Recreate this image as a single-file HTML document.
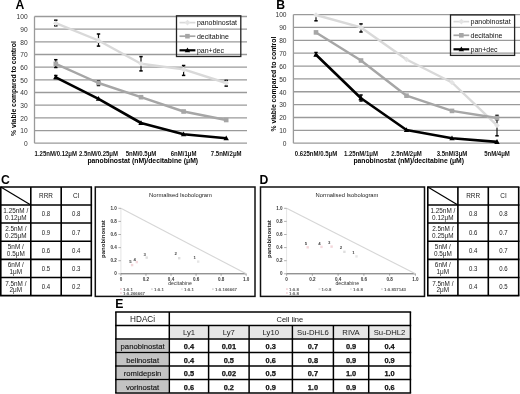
<!DOCTYPE html>
<html><head><meta charset="utf-8"><style>
html,body{margin:0;padding:0;background:#fff;}
body{width:520px;height:394px;overflow:hidden;}
svg{display:block;font-family:"Liberation Sans",sans-serif;filter:blur(0.3px);}
</style></head><body>
<svg width="520" height="394" viewBox="0 0 520 394">
<rect width="520" height="394" fill="#fff"/>
<text x="15.6" y="8.7" font-size="12.2" text-anchor="start" fill="#000" font-weight="bold" >A</text>
<line x1="34.5" y1="143.2" x2="247" y2="143.2" stroke="#9a9a9a" stroke-width="1.3" />
<text transform="translate(27.6 146.0) scale(0.85 1)" font-size="7.8" text-anchor="end" fill="#333">0</text>
<line x1="34.5" y1="130.53" x2="247" y2="130.53" stroke="#9a9a9a" stroke-width="1.3" />
<text transform="translate(27.6 133.33) scale(0.85 1)" font-size="7.8" text-anchor="end" fill="#333">10</text>
<line x1="34.5" y1="117.86" x2="247" y2="117.86" stroke="#9a9a9a" stroke-width="1.3" />
<text transform="translate(27.6 120.66) scale(0.85 1)" font-size="7.8" text-anchor="end" fill="#333">20</text>
<line x1="34.5" y1="105.19" x2="247" y2="105.19" stroke="#9a9a9a" stroke-width="1.3" />
<text transform="translate(27.6 107.99) scale(0.85 1)" font-size="7.8" text-anchor="end" fill="#333">30</text>
<line x1="34.5" y1="92.52" x2="247" y2="92.52" stroke="#9a9a9a" stroke-width="1.3" />
<text transform="translate(27.6 95.32) scale(0.85 1)" font-size="7.8" text-anchor="end" fill="#333">40</text>
<line x1="34.5" y1="79.85" x2="247" y2="79.85" stroke="#9a9a9a" stroke-width="1.3" />
<text transform="translate(27.6 82.64999999999999) scale(0.85 1)" font-size="7.8" text-anchor="end" fill="#333">50</text>
<line x1="34.5" y1="67.18" x2="247" y2="67.18" stroke="#9a9a9a" stroke-width="1.3" />
<text transform="translate(27.6 69.98) scale(0.85 1)" font-size="7.8" text-anchor="end" fill="#333">60</text>
<line x1="34.5" y1="54.51" x2="247" y2="54.51" stroke="#9a9a9a" stroke-width="1.3" />
<text transform="translate(27.6 57.309999999999995) scale(0.85 1)" font-size="7.8" text-anchor="end" fill="#333">70</text>
<line x1="34.5" y1="41.84" x2="247" y2="41.84" stroke="#9a9a9a" stroke-width="1.3" />
<text transform="translate(27.6 44.64) scale(0.85 1)" font-size="7.8" text-anchor="end" fill="#333">80</text>
<line x1="34.5" y1="29.17" x2="247" y2="29.17" stroke="#9a9a9a" stroke-width="1.3" />
<text transform="translate(27.6 31.970000000000002) scale(0.85 1)" font-size="7.8" text-anchor="end" fill="#333">90</text>
<line x1="34.5" y1="16.5" x2="247" y2="16.5" stroke="#9a9a9a" stroke-width="1.3" />
<text transform="translate(27.6 19.3) scale(0.85 1)" font-size="7.8" text-anchor="end" fill="#333">100</text>
<line x1="34.5" y1="16.5" x2="34.5" y2="143.2" stroke="#9a9a9a" stroke-width="1.3" />
<text x="13.8" y="88.6" font-size="6.8" font-weight="bold" text-anchor="middle" transform="rotate(-90 13.8 88.6)" dominant-baseline="central">% viable compared to control</text>
<text transform="translate(55.8 155.6) scale(0.86 1)" font-size="7.0" text-anchor="middle" fill="#111" font-weight="bold">1.25nM/0.12μM</text>
<text transform="translate(98.5 155.6) scale(0.86 1)" font-size="7.0" text-anchor="middle" fill="#111" font-weight="bold">2.5nM/0.25μM</text>
<text transform="translate(141 155.6) scale(0.86 1)" font-size="7.0" text-anchor="middle" fill="#111" font-weight="bold">5nM/0.5μM</text>
<text transform="translate(183.6 155.6) scale(0.86 1)" font-size="7.0" text-anchor="middle" fill="#111" font-weight="bold">6nM/1μM</text>
<text transform="translate(226.2 155.6) scale(0.86 1)" font-size="7.0" text-anchor="middle" fill="#111" font-weight="bold">7.5nM/2μM</text>
<text x="142.75" y="162.6" font-size="6.8" text-anchor="middle" fill="#000" font-weight="bold" >panobinostat (nM)/decitabine (μM)</text>
<line x1="55.8" y1="20.2" x2="55.8" y2="25.8" stroke="#111" stroke-width="1.2" />
<line x1="54.099999999999994" y1="20.2" x2="57.5" y2="20.2" stroke="#000" stroke-width="1.5" />
<line x1="54.099999999999994" y1="25.8" x2="57.5" y2="25.8" stroke="#000" stroke-width="1.5" />
<line x1="98.5" y1="34" x2="98.5" y2="46.1" stroke="#111" stroke-width="1.2" />
<line x1="96.8" y1="34" x2="100.2" y2="34" stroke="#000" stroke-width="1.5" />
<line x1="96.8" y1="46.1" x2="100.2" y2="46.1" stroke="#000" stroke-width="1.5" />
<line x1="141" y1="56.6" x2="141" y2="70.9" stroke="#111" stroke-width="1.2" />
<line x1="139.3" y1="56.6" x2="142.7" y2="56.6" stroke="#000" stroke-width="1.5" />
<line x1="139.3" y1="70.9" x2="142.7" y2="70.9" stroke="#000" stroke-width="1.5" />
<line x1="183.6" y1="65.5" x2="183.6" y2="75.4" stroke="#111" stroke-width="1.2" />
<line x1="181.9" y1="65.5" x2="185.29999999999998" y2="65.5" stroke="#000" stroke-width="1.5" />
<line x1="181.9" y1="75.4" x2="185.29999999999998" y2="75.4" stroke="#000" stroke-width="1.5" />
<line x1="226.2" y1="80.4" x2="226.2" y2="86.1" stroke="#111" stroke-width="1.2" />
<line x1="224.5" y1="80.4" x2="227.89999999999998" y2="80.4" stroke="#000" stroke-width="1.5" />
<line x1="224.5" y1="86.1" x2="227.89999999999998" y2="86.1" stroke="#000" stroke-width="1.5" />
<line x1="55.8" y1="59.7" x2="55.8" y2="67.5" stroke="#111" stroke-width="1.2" />
<line x1="54.099999999999994" y1="59.7" x2="57.5" y2="59.7" stroke="#000" stroke-width="1.5" />
<line x1="54.099999999999994" y1="67.5" x2="57.5" y2="67.5" stroke="#000" stroke-width="1.5" />
<line x1="98.5" y1="81" x2="98.5" y2="85.5" stroke="#111" stroke-width="1.2" />
<line x1="96.8" y1="81" x2="100.2" y2="81" stroke="#000" stroke-width="1.5" />
<line x1="96.8" y1="85.5" x2="100.2" y2="85.5" stroke="#000" stroke-width="1.5" />
<line x1="55.8" y1="75.5" x2="55.8" y2="78.5" stroke="#111" stroke-width="1.2" />
<line x1="54.099999999999994" y1="75.5" x2="57.5" y2="75.5" stroke="#000" stroke-width="1.5" />
<line x1="54.099999999999994" y1="78.5" x2="57.5" y2="78.5" stroke="#000" stroke-width="1.5" />
<polyline points="55.8,23.2 98.5,40.5 141,63.8 183.6,69.4 226.2,83.0" fill="none" stroke="#d9d9d9" stroke-width="2.4" stroke-linejoin="round"/>
<polyline points="55.8,63.8 98.5,83.0 141,97.2 183.6,111.5 226.2,120.0" fill="none" stroke="#a6a6a6" stroke-width="2.4" stroke-linejoin="round"/>
<polyline points="55.8,77.3 98.5,98.8 141,123.0 183.6,134.2 226.2,138.3" fill="none" stroke="#000" stroke-width="2.6" stroke-linejoin="round"/>
<path d="M55.8,20.4 L58.599999999999994,23.2 L55.8,26.0 L53.0,23.2 Z" fill="#e4e4e4"/>
<path d="M98.5,37.7 L101.3,40.5 L98.5,43.3 L95.7,40.5 Z" fill="#e4e4e4"/>
<path d="M141,61.0 L143.8,63.8 L141,66.6 L138.2,63.8 Z" fill="#e4e4e4"/>
<path d="M183.6,66.60000000000001 L186.4,69.4 L183.6,72.2 L180.79999999999998,69.4 Z" fill="#e4e4e4"/>
<path d="M226.2,80.2 L229.0,83.0 L226.2,85.8 L223.39999999999998,83.0 Z" fill="#e4e4e4"/>
<rect x="53.5" y="61.5" width="4.6" height="4.6" fill="#a6a6a6"/>
<rect x="96.2" y="80.7" width="4.6" height="4.6" fill="#a6a6a6"/>
<rect x="138.7" y="94.9" width="4.6" height="4.6" fill="#a6a6a6"/>
<rect x="181.29999999999998" y="109.2" width="4.6" height="4.6" fill="#a6a6a6"/>
<rect x="223.89999999999998" y="117.7" width="4.6" height="4.6" fill="#a6a6a6"/>
<path d="M55.8,74.49999999999999 L58.49999999999999,79.3 L53.1,79.3 Z" fill="#000"/>
<path d="M98.5,95.99999999999999 L101.2,100.8 L95.8,100.8 Z" fill="#000"/>
<path d="M141,120.19999999999999 L143.70000000000002,125.0 L138.29999999999998,125.0 Z" fill="#000"/>
<path d="M183.6,131.39999999999998 L186.3,136.2 L180.89999999999998,136.2 Z" fill="#000"/>
<path d="M226.2,135.5 L228.9,140.3 L223.49999999999997,140.3 Z" fill="#000"/>
<rect x="176.5" y="15.8" width="64.30000000000001" height="40.7" fill="none" stroke="#222" stroke-width="1.3" />
<line x1="179.5" y1="22.6" x2="195.4" y2="22.6" stroke="#d9d9d9" stroke-width="1.7" />
<path d="M187.45,19.8 L190.25,22.6 L187.45,25.400000000000002 L184.64999999999998,22.6 Z" fill="#e4e4e4"/>
<text x="196.9" y="25.1" font-size="7.0" text-anchor="start" fill="#111" >panobinostat</text>
<line x1="179.5" y1="36.2" x2="195.4" y2="36.2" stroke="#a6a6a6" stroke-width="1.7" />
<rect x="185.14999999999998" y="33.900000000000006" width="4.6" height="4.6" fill="#a6a6a6"/>
<text x="196.9" y="38.7" font-size="7.0" text-anchor="start" fill="#111" >decitabine</text>
<line x1="179.5" y1="50.3" x2="195.4" y2="50.3" stroke="#000" stroke-width="2.2" />
<path d="M187.45,47.5 L190.15,52.3 L184.74999999999997,52.3 Z" fill="#000"/>
<text x="196.9" y="52.8" font-size="7.0" text-anchor="start" fill="#111" >pan+dec</text>
<text x="276.2" y="8.6" font-size="12.2" text-anchor="start" fill="#000" font-weight="bold" >B</text>
<line x1="293.4" y1="143.2" x2="520" y2="143.2" stroke="#9a9a9a" stroke-width="1.3" />
<text transform="translate(286.5 146.0) scale(0.85 1)" font-size="7.8" text-anchor="end" fill="#333">0</text>
<line x1="293.4" y1="130.34" x2="520" y2="130.34" stroke="#9a9a9a" stroke-width="1.3" />
<text transform="translate(286.5 133.14000000000001) scale(0.85 1)" font-size="7.8" text-anchor="end" fill="#333">10</text>
<line x1="293.4" y1="117.48" x2="520" y2="117.48" stroke="#9a9a9a" stroke-width="1.3" />
<text transform="translate(286.5 120.28) scale(0.85 1)" font-size="7.8" text-anchor="end" fill="#333">20</text>
<line x1="293.4" y1="104.62" x2="520" y2="104.62" stroke="#9a9a9a" stroke-width="1.3" />
<text transform="translate(286.5 107.42) scale(0.85 1)" font-size="7.8" text-anchor="end" fill="#333">30</text>
<line x1="293.4" y1="91.76" x2="520" y2="91.76" stroke="#9a9a9a" stroke-width="1.3" />
<text transform="translate(286.5 94.56) scale(0.85 1)" font-size="7.8" text-anchor="end" fill="#333">40</text>
<line x1="293.4" y1="78.9" x2="520" y2="78.9" stroke="#9a9a9a" stroke-width="1.3" />
<text transform="translate(286.5 81.7) scale(0.85 1)" font-size="7.8" text-anchor="end" fill="#333">50</text>
<line x1="293.4" y1="66.04" x2="520" y2="66.04" stroke="#9a9a9a" stroke-width="1.3" />
<text transform="translate(286.5 68.84) scale(0.85 1)" font-size="7.8" text-anchor="end" fill="#333">60</text>
<line x1="293.4" y1="53.18" x2="520" y2="53.18" stroke="#9a9a9a" stroke-width="1.3" />
<text transform="translate(286.5 55.98) scale(0.85 1)" font-size="7.8" text-anchor="end" fill="#333">70</text>
<line x1="293.4" y1="40.32" x2="520" y2="40.32" stroke="#9a9a9a" stroke-width="1.3" />
<text transform="translate(286.5 43.12) scale(0.85 1)" font-size="7.8" text-anchor="end" fill="#333">80</text>
<line x1="293.4" y1="27.46" x2="520" y2="27.46" stroke="#9a9a9a" stroke-width="1.3" />
<text transform="translate(286.5 30.26) scale(0.85 1)" font-size="7.8" text-anchor="end" fill="#333">90</text>
<line x1="293.4" y1="14.6" x2="520" y2="14.6" stroke="#9a9a9a" stroke-width="1.3" />
<text transform="translate(286.5 17.4) scale(0.85 1)" font-size="7.8" text-anchor="end" fill="#333">100</text>
<line x1="293.4" y1="14.599999999999994" x2="293.4" y2="143.2" stroke="#9a9a9a" stroke-width="1.3" />
<text x="273.1" y="84.1" font-size="6.8" font-weight="bold" text-anchor="middle" transform="rotate(-90 273.1 84.1)" dominant-baseline="central">% viable compared to control</text>
<text transform="translate(316 155.6) scale(0.86 1)" font-size="7.0" text-anchor="middle" fill="#111" font-weight="bold">0.625nM/0.5μM</text>
<text transform="translate(361 155.6) scale(0.86 1)" font-size="7.0" text-anchor="middle" fill="#111" font-weight="bold">1.25nM/1μM</text>
<text transform="translate(406.5 155.6) scale(0.86 1)" font-size="7.0" text-anchor="middle" fill="#111" font-weight="bold">2.5nM/2μM</text>
<text transform="translate(452 155.6) scale(0.86 1)" font-size="7.0" text-anchor="middle" fill="#111" font-weight="bold">3.5nM/3μM</text>
<text transform="translate(497 155.6) scale(0.86 1)" font-size="7.0" text-anchor="middle" fill="#111" font-weight="bold">5nM/4μM</text>
<text x="408.7" y="162.6" font-size="6.8" text-anchor="middle" fill="#000" font-weight="bold" >panobinostat (nM)/decitabine (μM)</text>
<line x1="316" y1="14.8" x2="316" y2="20.8" stroke="#111" stroke-width="1.2" />
<line x1="314.3" y1="14.8" x2="317.7" y2="14.8" stroke="#000" stroke-width="1.5" />
<line x1="314.3" y1="20.8" x2="317.7" y2="20.8" stroke="#000" stroke-width="1.5" />
<line x1="361" y1="23.9" x2="361" y2="32.0" stroke="#111" stroke-width="1.2" />
<line x1="359.3" y1="23.9" x2="362.7" y2="23.9" stroke="#000" stroke-width="1.5" />
<line x1="359.3" y1="32.0" x2="362.7" y2="32.0" stroke="#000" stroke-width="1.5" />
<line x1="497" y1="119.5" x2="497" y2="135.8" stroke="#111" stroke-width="1.2" />
<line x1="495.3" y1="119.5" x2="498.7" y2="119.5" stroke="#000" stroke-width="1.5" />
<line x1="495.3" y1="135.8" x2="498.7" y2="135.8" stroke="#000" stroke-width="1.5" />
<line x1="497" y1="115.4" x2="497" y2="119.5" stroke="#111" stroke-width="1.2" />
<line x1="495.3" y1="115.4" x2="498.7" y2="115.4" stroke="#000" stroke-width="1.5" />
<line x1="495.3" y1="119.5" x2="498.7" y2="119.5" stroke="#000" stroke-width="1.5" />
<line x1="361" y1="95" x2="361" y2="101" stroke="#111" stroke-width="1.2" />
<line x1="359.3" y1="95" x2="362.7" y2="95" stroke="#000" stroke-width="1.5" />
<line x1="359.3" y1="101" x2="362.7" y2="101" stroke="#000" stroke-width="1.5" />
<line x1="316" y1="52.5" x2="316" y2="55.5" stroke="#111" stroke-width="1.2" />
<line x1="314.3" y1="52.5" x2="317.7" y2="52.5" stroke="#000" stroke-width="1.5" />
<line x1="314.3" y1="55.5" x2="317.7" y2="55.5" stroke="#000" stroke-width="1.5" />
<polyline points="316,15.0 361,27.4 406.5,59.5 452,82.5 497,125.4" fill="none" stroke="#d9d9d9" stroke-width="2.4" stroke-linejoin="round"/>
<polyline points="316,32.4 361,60.5 406.5,95.7 452,110.9 497,118.0" fill="none" stroke="#a6a6a6" stroke-width="2.4" stroke-linejoin="round"/>
<polyline points="316,54.7 361,98.2 406.5,130.0 452,138.3 497,141.9" fill="none" stroke="#000" stroke-width="2.6" stroke-linejoin="round"/>
<path d="M316,12.2 L318.8,15.0 L316,17.8 L313.2,15.0 Z" fill="#e4e4e4"/>
<path d="M361,24.599999999999998 L363.8,27.4 L361,30.2 L358.2,27.4 Z" fill="#e4e4e4"/>
<path d="M406.5,56.7 L409.3,59.5 L406.5,62.3 L403.7,59.5 Z" fill="#e4e4e4"/>
<path d="M452,79.7 L454.8,82.5 L452,85.3 L449.2,82.5 Z" fill="#e4e4e4"/>
<path d="M497,122.60000000000001 L499.8,125.4 L497,128.20000000000002 L494.2,125.4 Z" fill="#e4e4e4"/>
<rect x="313.7" y="30.099999999999998" width="4.6" height="4.6" fill="#a6a6a6"/>
<rect x="358.7" y="58.2" width="4.6" height="4.6" fill="#a6a6a6"/>
<rect x="404.2" y="93.4" width="4.6" height="4.6" fill="#a6a6a6"/>
<rect x="449.7" y="108.60000000000001" width="4.6" height="4.6" fill="#a6a6a6"/>
<rect x="494.7" y="115.7" width="4.6" height="4.6" fill="#a6a6a6"/>
<path d="M316,51.900000000000006 L318.7,56.7 L313.3,56.7 Z" fill="#000"/>
<path d="M361,95.39999999999999 L363.7,100.2 L358.3,100.2 Z" fill="#000"/>
<path d="M406.5,127.19999999999999 L409.2,132.0 L403.8,132.0 Z" fill="#000"/>
<path d="M452,135.5 L454.7,140.3 L449.3,140.3 Z" fill="#000"/>
<path d="M497,139.1 L499.7,143.9 L494.3,143.9 Z" fill="#000"/>
<rect x="450.5" y="14.9" width="64.10000000000002" height="40.5" fill="none" stroke="#222" stroke-width="1.3" />
<line x1="453.5" y1="21.6" x2="469.2" y2="21.6" stroke="#d9d9d9" stroke-width="1.7" />
<path d="M461.35,18.8 L464.15000000000003,21.6 L461.35,24.400000000000002 L458.55,21.6 Z" fill="#e4e4e4"/>
<text x="470.5" y="24.1" font-size="7.0" text-anchor="start" fill="#111" >panobinostat</text>
<line x1="453.5" y1="35.3" x2="469.2" y2="35.3" stroke="#a6a6a6" stroke-width="1.7" />
<rect x="459.05" y="33.0" width="4.6" height="4.6" fill="#a6a6a6"/>
<text x="470.5" y="37.8" font-size="7.0" text-anchor="start" fill="#111" >decitabine</text>
<line x1="453.5" y1="49.3" x2="469.2" y2="49.3" stroke="#000" stroke-width="2.2" />
<path d="M461.35,46.5 L464.05,51.3 L458.65000000000003,51.3 Z" fill="#000"/>
<text x="470.5" y="51.8" font-size="7.0" text-anchor="start" fill="#111" >pan+dec</text>
<text x="1.1" y="183.6" font-size="12.2" text-anchor="start" fill="#000" font-weight="bold" >C</text>
<text x="259.4" y="183.6" font-size="12.2" text-anchor="start" fill="#000" font-weight="bold" >D</text>
<text x="115.3" y="307.8" font-size="12.2" text-anchor="start" fill="#000" font-weight="bold" >E</text>
<line x1="0.050000000000000044" y1="187" x2="92.05" y2="187" stroke="#000" stroke-width="1.6" />
<line x1="0.050000000000000044" y1="205" x2="92.05" y2="205" stroke="#000" stroke-width="1.6" />
<line x1="0.050000000000000044" y1="223" x2="92.05" y2="223" stroke="#000" stroke-width="1.6" />
<line x1="0.050000000000000044" y1="241.3" x2="92.05" y2="241.3" stroke="#000" stroke-width="1.6" />
<line x1="0.050000000000000044" y1="259.4" x2="92.05" y2="259.4" stroke="#000" stroke-width="1.6" />
<line x1="0.050000000000000044" y1="277.5" x2="92.05" y2="277.5" stroke="#000" stroke-width="1.6" />
<line x1="0.050000000000000044" y1="295.6" x2="92.05" y2="295.6" stroke="#000" stroke-width="1.6" />
<line x1="0.8" y1="187" x2="0.8" y2="295.6" stroke="#000" stroke-width="1.6" />
<line x1="30.8" y1="187" x2="30.8" y2="295.6" stroke="#000" stroke-width="1.6" />
<line x1="61.2" y1="187" x2="61.2" y2="295.6" stroke="#000" stroke-width="1.6" />
<line x1="91.3" y1="187" x2="91.3" y2="295.6" stroke="#000" stroke-width="1.6" />
<line x1="0.8" y1="187" x2="30.8" y2="205" stroke="#000" stroke-width="1.2" />
<text x="46.0" y="198.4" font-size="6.4" text-anchor="middle" fill="#222" >RRR</text>
<text x="76.25" y="198.4" font-size="6.4" text-anchor="middle" fill="#222" >CI</text>
<text x="15.8" y="213.0" font-size="6.4" text-anchor="middle" fill="#222" >1.25nM /</text>
<text x="15.8" y="219.9" font-size="6.4" text-anchor="middle" fill="#222" >0.12μM</text>
<text transform="translate(46.0 216.4) scale(0.9 1)" font-size="6.7" text-anchor="middle" fill="#1a1a1a">0.8</text>
<text transform="translate(76.25 216.4) scale(0.9 1)" font-size="6.7" text-anchor="middle" fill="#1a1a1a">0.8</text>
<text x="15.8" y="231.15" font-size="6.4" text-anchor="middle" fill="#222" >2.5nM /</text>
<text x="15.8" y="238.05" font-size="6.4" text-anchor="middle" fill="#222" >0.25μM</text>
<text transform="translate(46.0 234.55) scale(0.9 1)" font-size="6.7" text-anchor="middle" fill="#1a1a1a">0.9</text>
<text transform="translate(76.25 234.55) scale(0.9 1)" font-size="6.7" text-anchor="middle" fill="#1a1a1a">0.7</text>
<text x="15.8" y="249.35" font-size="6.4" text-anchor="middle" fill="#222" >5nM /</text>
<text x="15.8" y="256.25" font-size="6.4" text-anchor="middle" fill="#222" >0.5μM</text>
<text transform="translate(46.0 252.75) scale(0.9 1)" font-size="6.7" text-anchor="middle" fill="#1a1a1a">0.6</text>
<text transform="translate(76.25 252.75) scale(0.9 1)" font-size="6.7" text-anchor="middle" fill="#1a1a1a">0.4</text>
<text x="15.8" y="267.45" font-size="6.4" text-anchor="middle" fill="#222" >6nM /</text>
<text x="15.8" y="274.34999999999997" font-size="6.4" text-anchor="middle" fill="#222" >1μM</text>
<text transform="translate(46.0 270.84999999999997) scale(0.9 1)" font-size="6.7" text-anchor="middle" fill="#1a1a1a">0.5</text>
<text transform="translate(76.25 270.84999999999997) scale(0.9 1)" font-size="6.7" text-anchor="middle" fill="#1a1a1a">0.3</text>
<text x="15.8" y="285.55" font-size="6.4" text-anchor="middle" fill="#222" >7.5nM /</text>
<text x="15.8" y="292.45" font-size="6.4" text-anchor="middle" fill="#222" >2μM</text>
<text transform="translate(46.0 288.95) scale(0.9 1)" font-size="6.7" text-anchor="middle" fill="#1a1a1a">0.4</text>
<text transform="translate(76.25 288.95) scale(0.9 1)" font-size="6.7" text-anchor="middle" fill="#1a1a1a">0.2</text>
<line x1="427.05" y1="187" x2="519.45" y2="187" stroke="#000" stroke-width="1.6" />
<line x1="427.05" y1="205" x2="519.45" y2="205" stroke="#000" stroke-width="1.6" />
<line x1="427.05" y1="223" x2="519.45" y2="223" stroke="#000" stroke-width="1.6" />
<line x1="427.05" y1="241.3" x2="519.45" y2="241.3" stroke="#000" stroke-width="1.6" />
<line x1="427.05" y1="259.4" x2="519.45" y2="259.4" stroke="#000" stroke-width="1.6" />
<line x1="427.05" y1="277.5" x2="519.45" y2="277.5" stroke="#000" stroke-width="1.6" />
<line x1="427.05" y1="295.6" x2="519.45" y2="295.6" stroke="#000" stroke-width="1.6" />
<line x1="427.8" y1="187" x2="427.8" y2="295.6" stroke="#000" stroke-width="1.6" />
<line x1="457.9" y1="187" x2="457.9" y2="295.6" stroke="#000" stroke-width="1.6" />
<line x1="488.3" y1="187" x2="488.3" y2="295.6" stroke="#000" stroke-width="1.6" />
<line x1="518.7" y1="187" x2="518.7" y2="295.6" stroke="#000" stroke-width="1.6" />
<line x1="427.8" y1="187" x2="457.9" y2="205" stroke="#000" stroke-width="1.2" />
<text x="473.1" y="198.4" font-size="6.4" text-anchor="middle" fill="#222" >RRR</text>
<text x="503.5" y="198.4" font-size="6.4" text-anchor="middle" fill="#222" >CI</text>
<text x="442.85" y="213.0" font-size="6.4" text-anchor="middle" fill="#222" >1.25nM /</text>
<text x="442.85" y="219.9" font-size="6.4" text-anchor="middle" fill="#222" >0.12μM</text>
<text transform="translate(473.1 216.4) scale(0.9 1)" font-size="6.7" text-anchor="middle" fill="#1a1a1a">0.8</text>
<text transform="translate(503.5 216.4) scale(0.9 1)" font-size="6.7" text-anchor="middle" fill="#1a1a1a">0.8</text>
<text x="442.85" y="231.15" font-size="6.4" text-anchor="middle" fill="#222" >2.5nM /</text>
<text x="442.85" y="238.05" font-size="6.4" text-anchor="middle" fill="#222" >0.25μM</text>
<text transform="translate(473.1 234.55) scale(0.9 1)" font-size="6.7" text-anchor="middle" fill="#1a1a1a">0.6</text>
<text transform="translate(503.5 234.55) scale(0.9 1)" font-size="6.7" text-anchor="middle" fill="#1a1a1a">0.7</text>
<text x="442.85" y="249.35" font-size="6.4" text-anchor="middle" fill="#222" >5nM /</text>
<text x="442.85" y="256.25" font-size="6.4" text-anchor="middle" fill="#222" >0.5μM</text>
<text transform="translate(473.1 252.75) scale(0.9 1)" font-size="6.7" text-anchor="middle" fill="#1a1a1a">0.4</text>
<text transform="translate(503.5 252.75) scale(0.9 1)" font-size="6.7" text-anchor="middle" fill="#1a1a1a">0.7</text>
<text x="442.85" y="267.45" font-size="6.4" text-anchor="middle" fill="#222" >6nM /</text>
<text x="442.85" y="274.34999999999997" font-size="6.4" text-anchor="middle" fill="#222" >1μM</text>
<text transform="translate(473.1 270.84999999999997) scale(0.9 1)" font-size="6.7" text-anchor="middle" fill="#1a1a1a">0.3</text>
<text transform="translate(503.5 270.84999999999997) scale(0.9 1)" font-size="6.7" text-anchor="middle" fill="#1a1a1a">0.6</text>
<text x="442.85" y="285.55" font-size="6.4" text-anchor="middle" fill="#222" >7.5nM /</text>
<text x="442.85" y="292.45" font-size="6.4" text-anchor="middle" fill="#222" >2μM</text>
<text transform="translate(473.1 288.95) scale(0.9 1)" font-size="6.7" text-anchor="middle" fill="#1a1a1a">0.4</text>
<text transform="translate(503.5 288.95) scale(0.9 1)" font-size="6.7" text-anchor="middle" fill="#1a1a1a">0.5</text>
<rect x="95.3" y="187" width="159.7" height="109.39999999999998" fill="none" stroke="#111" stroke-width="1.5" />
<text x="180.5" y="197.3" font-size="5.8" text-anchor="middle" fill="#222" >Normalised Isobologram</text>
<line x1="120.9" y1="208.3" x2="120.9" y2="273.8" stroke="#dedede" stroke-width="0.8" />
<line x1="120.9" y1="273.8" x2="246.2" y2="273.8" stroke="#555" stroke-width="0.9" />
<line x1="120.9" y1="208.3" x2="246.2" y2="273.8" stroke="#d6d6d6" stroke-width="1.1" />
<line x1="118.4" y1="273.8" x2="120.9" y2="273.8" stroke="#777" stroke-width="0.6" />
<text transform="translate(116.9 275.40000000000003) scale(0.9 1)" font-size="5.1" text-anchor="end" fill="#3a3a3a" font-weight="bold">0</text>
<line x1="120.9" y1="273.8" x2="120.9" y2="275.8" stroke="#777" stroke-width="0.6" />
<text transform="translate(120.9 280.90000000000003) scale(0.9 1)" font-size="5.1" text-anchor="middle" fill="#3a3a3a" font-weight="bold">0</text>
<line x1="118.4" y1="260.7" x2="120.9" y2="260.7" stroke="#777" stroke-width="0.6" />
<text transform="translate(116.9 262.3) scale(0.9 1)" font-size="5.1" text-anchor="end" fill="#3a3a3a" font-weight="bold">0.2</text>
<line x1="145.96" y1="273.8" x2="145.96" y2="275.8" stroke="#777" stroke-width="0.6" />
<text transform="translate(145.96 280.90000000000003) scale(0.9 1)" font-size="5.1" text-anchor="middle" fill="#3a3a3a" font-weight="bold">0.2</text>
<line x1="118.4" y1="247.60000000000002" x2="120.9" y2="247.60000000000002" stroke="#777" stroke-width="0.6" />
<text transform="translate(116.9 249.20000000000002) scale(0.9 1)" font-size="5.1" text-anchor="end" fill="#3a3a3a" font-weight="bold">0.4</text>
<line x1="171.02" y1="273.8" x2="171.02" y2="275.8" stroke="#777" stroke-width="0.6" />
<text transform="translate(171.02 280.90000000000003) scale(0.9 1)" font-size="5.1" text-anchor="middle" fill="#3a3a3a" font-weight="bold">0.4</text>
<line x1="118.4" y1="234.5" x2="120.9" y2="234.5" stroke="#777" stroke-width="0.6" />
<text transform="translate(116.9 236.1) scale(0.9 1)" font-size="5.1" text-anchor="end" fill="#3a3a3a" font-weight="bold">0.6</text>
<line x1="196.08" y1="273.8" x2="196.08" y2="275.8" stroke="#777" stroke-width="0.6" />
<text transform="translate(196.08 280.90000000000003) scale(0.9 1)" font-size="5.1" text-anchor="middle" fill="#3a3a3a" font-weight="bold">0.6</text>
<line x1="118.4" y1="221.4" x2="120.9" y2="221.4" stroke="#777" stroke-width="0.6" />
<text transform="translate(116.9 223.0) scale(0.9 1)" font-size="5.1" text-anchor="end" fill="#3a3a3a" font-weight="bold">0.8</text>
<line x1="221.14000000000001" y1="273.8" x2="221.14000000000001" y2="275.8" stroke="#777" stroke-width="0.6" />
<text transform="translate(221.14000000000001 280.90000000000003) scale(0.9 1)" font-size="5.1" text-anchor="middle" fill="#3a3a3a" font-weight="bold">0.8</text>
<line x1="118.4" y1="208.3" x2="120.9" y2="208.3" stroke="#777" stroke-width="0.6" />
<text transform="translate(116.9 209.9) scale(0.9 1)" font-size="5.1" text-anchor="end" fill="#3a3a3a" font-weight="bold">1.0</text>
<line x1="246.2" y1="273.8" x2="246.2" y2="275.8" stroke="#777" stroke-width="0.6" />
<text transform="translate(246.2 280.90000000000003) scale(0.9 1)" font-size="5.1" text-anchor="middle" fill="#3a3a3a" font-weight="bold">1.0</text>
<text x="180" y="285.2" font-size="5.2" text-anchor="middle" fill="#333" >decitabine</text>
<text x="103.4" y="239.05" font-size="6.0" font-weight="bold" text-anchor="middle" fill="#222" transform="rotate(-90 103.4 239.05)" dominant-baseline="central">panobinostat</text>
<text x="130.4" y="263.1" font-size="4.3" text-anchor="middle" fill="#444" font-weight="bold" >5</text>
<rect x="130.9" y="263.90000000000003" width="2.4" height="2.4" fill="#f3d6da"/>
<text x="134.7" y="260.5" font-size="4.3" text-anchor="middle" fill="#444" font-weight="bold" >4</text>
<rect x="135.60000000000002" y="260.90000000000003" width="2.4" height="2.4" fill="#f5dade"/>
<text x="144.6" y="255.7" font-size="4.3" text-anchor="middle" fill="#444" font-weight="bold" >3</text>
<rect x="145.5" y="256.40000000000003" width="2.4" height="2.4" fill="#dedede"/>
<text x="175.7" y="255.0" font-size="4.3" text-anchor="middle" fill="#444" font-weight="bold" >2</text>
<rect x="178.0" y="257.0" width="2.4" height="2.4" fill="#dedede"/>
<text x="194.8" y="258.8" font-size="4.3" text-anchor="middle" fill="#444" font-weight="bold" >1</text>
<rect x="197.0" y="260.40000000000003" width="2.4" height="2.4" fill="#e6e6e6"/>
<rect x="120" y="288.2" width="1.8" height="1.8" fill="#f3d6da"/>
<text transform="translate(123 291.0) scale(1.12 1)" font-size="3.9" text-anchor="start" fill="#555" font-weight="bold">1:0.1</text>
<rect x="151" y="288.2" width="1.8" height="1.8" fill="#dedede"/>
<text transform="translate(154 291.0) scale(1.12 1)" font-size="3.9" text-anchor="start" fill="#555" font-weight="bold">1:0.1</text>
<rect x="181" y="288.2" width="1.8" height="1.8" fill="#e6e6e6"/>
<text transform="translate(184 291.0) scale(1.12 1)" font-size="3.9" text-anchor="start" fill="#555" font-weight="bold">1:0.1</text>
<rect x="212" y="288.2" width="1.8" height="1.8" fill="#dedede"/>
<text transform="translate(215 291.0) scale(1.12 1)" font-size="3.9" text-anchor="start" fill="#555" font-weight="bold">1:0.166667</text>
<rect x="120" y="292.09999999999997" width="1.8" height="1.8" fill="#f5dade"/>
<text transform="translate(123 294.9) scale(1.12 1)" font-size="3.9" text-anchor="start" fill="#555" font-weight="bold">1:0.266667</text>
<rect x="260.5" y="187" width="164.0" height="109.39999999999998" fill="none" stroke="#111" stroke-width="1.5" />
<text x="347" y="197.3" font-size="5.8" text-anchor="middle" fill="#222" >Normalised Isobologram</text>
<line x1="286.6" y1="208.3" x2="286.6" y2="273.8" stroke="#dedede" stroke-width="0.8" />
<line x1="286.6" y1="273.8" x2="415.40000000000003" y2="273.8" stroke="#555" stroke-width="0.9" />
<line x1="286.6" y1="208.3" x2="415.40000000000003" y2="273.8" stroke="#d6d6d6" stroke-width="1.1" />
<line x1="284.1" y1="273.8" x2="286.6" y2="273.8" stroke="#777" stroke-width="0.6" />
<text transform="translate(282.6 275.40000000000003) scale(0.9 1)" font-size="5.1" text-anchor="end" fill="#3a3a3a" font-weight="bold">0</text>
<line x1="286.6" y1="273.8" x2="286.6" y2="275.8" stroke="#777" stroke-width="0.6" />
<text transform="translate(286.6 280.90000000000003) scale(0.9 1)" font-size="5.1" text-anchor="middle" fill="#3a3a3a" font-weight="bold">0</text>
<line x1="284.1" y1="260.7" x2="286.6" y2="260.7" stroke="#777" stroke-width="0.6" />
<text transform="translate(282.6 262.3) scale(0.9 1)" font-size="5.1" text-anchor="end" fill="#3a3a3a" font-weight="bold">0.2</text>
<line x1="312.36" y1="273.8" x2="312.36" y2="275.8" stroke="#777" stroke-width="0.6" />
<text transform="translate(312.36 280.90000000000003) scale(0.9 1)" font-size="5.1" text-anchor="middle" fill="#3a3a3a" font-weight="bold">0.2</text>
<line x1="284.1" y1="247.60000000000002" x2="286.6" y2="247.60000000000002" stroke="#777" stroke-width="0.6" />
<text transform="translate(282.6 249.20000000000002) scale(0.9 1)" font-size="5.1" text-anchor="end" fill="#3a3a3a" font-weight="bold">0.4</text>
<line x1="338.12" y1="273.8" x2="338.12" y2="275.8" stroke="#777" stroke-width="0.6" />
<text transform="translate(338.12 280.90000000000003) scale(0.9 1)" font-size="5.1" text-anchor="middle" fill="#3a3a3a" font-weight="bold">0.4</text>
<line x1="284.1" y1="234.5" x2="286.6" y2="234.5" stroke="#777" stroke-width="0.6" />
<text transform="translate(282.6 236.1) scale(0.9 1)" font-size="5.1" text-anchor="end" fill="#3a3a3a" font-weight="bold">0.6</text>
<line x1="363.88000000000005" y1="273.8" x2="363.88000000000005" y2="275.8" stroke="#777" stroke-width="0.6" />
<text transform="translate(363.88000000000005 280.90000000000003) scale(0.9 1)" font-size="5.1" text-anchor="middle" fill="#3a3a3a" font-weight="bold">0.6</text>
<line x1="284.1" y1="221.4" x2="286.6" y2="221.4" stroke="#777" stroke-width="0.6" />
<text transform="translate(282.6 223.0) scale(0.9 1)" font-size="5.1" text-anchor="end" fill="#3a3a3a" font-weight="bold">0.8</text>
<line x1="389.64000000000004" y1="273.8" x2="389.64000000000004" y2="275.8" stroke="#777" stroke-width="0.6" />
<text transform="translate(389.64000000000004 280.90000000000003) scale(0.9 1)" font-size="5.1" text-anchor="middle" fill="#3a3a3a" font-weight="bold">0.8</text>
<line x1="284.1" y1="208.3" x2="286.6" y2="208.3" stroke="#777" stroke-width="0.6" />
<text transform="translate(282.6 209.9) scale(0.9 1)" font-size="5.1" text-anchor="end" fill="#3a3a3a" font-weight="bold">1.0</text>
<line x1="415.40000000000003" y1="273.8" x2="415.40000000000003" y2="275.8" stroke="#777" stroke-width="0.6" />
<text transform="translate(415.40000000000003 280.90000000000003) scale(0.9 1)" font-size="5.1" text-anchor="middle" fill="#3a3a3a" font-weight="bold">1.0</text>
<text x="347.3" y="285.2" font-size="5.2" text-anchor="middle" fill="#333" >decitabine</text>
<text x="269.1" y="239.05" font-size="6.0" font-weight="bold" text-anchor="middle" fill="#222" transform="rotate(-90 269.1 239.05)" dominant-baseline="central">panobinostat</text>
<text x="306" y="245.0" font-size="4.3" text-anchor="middle" fill="#444" font-weight="bold" >5</text>
<rect x="306.5" y="246.10000000000002" width="2.4" height="2.4" fill="#f3d6da"/>
<text x="319.4" y="244.5" font-size="4.3" text-anchor="middle" fill="#444" font-weight="bold" >4</text>
<rect x="320.3" y="245.70000000000002" width="2.4" height="2.4" fill="#f5dade"/>
<text x="329.3" y="244.1" font-size="4.3" text-anchor="middle" fill="#444" font-weight="bold" >3</text>
<rect x="330.40000000000003" y="245.4" width="2.4" height="2.4" fill="#f3d6da"/>
<text x="340.9" y="249.3" font-size="4.3" text-anchor="middle" fill="#444" font-weight="bold" >2</text>
<rect x="343.2" y="250.60000000000002" width="2.4" height="2.4" fill="#dedede"/>
<text x="353.5" y="254.0" font-size="4.3" text-anchor="middle" fill="#444" font-weight="bold" >1</text>
<rect x="355.3" y="255.2" width="2.4" height="2.4" fill="#e6e6e6"/>
<rect x="286" y="288.2" width="1.8" height="1.8" fill="#f3d6da"/>
<text transform="translate(289 291.0) scale(1.12 1)" font-size="3.9" text-anchor="start" fill="#555" font-weight="bold">1:0.8</text>
<rect x="318.5" y="288.2" width="1.8" height="1.8" fill="#dedede"/>
<text transform="translate(321.5 291.0) scale(1.12 1)" font-size="3.9" text-anchor="start" fill="#555" font-weight="bold">1:0.8</text>
<rect x="350" y="288.2" width="1.8" height="1.8" fill="#e6e6e6"/>
<text transform="translate(353 291.0) scale(1.12 1)" font-size="3.9" text-anchor="start" fill="#555" font-weight="bold">1:0.8</text>
<rect x="381" y="288.2" width="1.8" height="1.8" fill="#dedede"/>
<text transform="translate(384 291.0) scale(1.12 1)" font-size="3.9" text-anchor="start" fill="#555" font-weight="bold">1:0.857143</text>
<rect x="286" y="292.09999999999997" width="1.8" height="1.8" fill="#f5dade"/>
<text transform="translate(289 294.9) scale(1.12 1)" font-size="3.9" text-anchor="start" fill="#555" font-weight="bold">1:0.8</text>
<rect x="170.3" y="326.4" width="37.29999999999998" height="11.700000000000045" fill="#e6e6e6" stroke="none" stroke-width="1" />
<rect x="209.6" y="326.4" width="38.5" height="11.700000000000045" fill="#e6e6e6" stroke="none" stroke-width="1" />
<rect x="250.1" y="326.4" width="41.29999999999998" height="11.700000000000045" fill="#e6e6e6" stroke="none" stroke-width="1" />
<rect x="293.4" y="326.4" width="39.0" height="11.700000000000045" fill="#e6e6e6" stroke="none" stroke-width="1" />
<rect x="334.4" y="326.4" width="33.30000000000001" height="11.700000000000045" fill="#e6e6e6" stroke="none" stroke-width="1" />
<rect x="369.7" y="326.4" width="39.69999999999999" height="11.700000000000045" fill="#e6e6e6" stroke="none" stroke-width="1" />
<rect x="116.9" y="340.1" width="51.400000000000006" height="11.399999999999977" fill="#c3c3c3" stroke="none" stroke-width="1" />
<rect x="116.9" y="353.5" width="51.400000000000006" height="11.5" fill="#c3c3c3" stroke="none" stroke-width="1" />
<rect x="116.9" y="367" width="51.400000000000006" height="11.5" fill="#c3c3c3" stroke="none" stroke-width="1" />
<rect x="116.9" y="380.5" width="51.400000000000006" height="11.399999999999977" fill="#c3c3c3" stroke="none" stroke-width="1" />
<line x1="115.15" y1="312" x2="411.15" y2="312" stroke="#000" stroke-width="1.5" />
<line x1="115.15" y1="325.4" x2="411.15" y2="325.4" stroke="#000" stroke-width="1.5" />
<line x1="115.15" y1="339.1" x2="411.15" y2="339.1" stroke="#000" stroke-width="1.5" />
<line x1="115.15" y1="352.5" x2="411.15" y2="352.5" stroke="#000" stroke-width="1.5" />
<line x1="115.15" y1="366" x2="411.15" y2="366" stroke="#000" stroke-width="1.5" />
<line x1="115.15" y1="379.5" x2="411.15" y2="379.5" stroke="#000" stroke-width="1.5" />
<line x1="115.15" y1="392.9" x2="411.15" y2="392.9" stroke="#000" stroke-width="1.5" />
<line x1="115.9" y1="312" x2="115.9" y2="392.9" stroke="#000" stroke-width="1.5" />
<line x1="169.3" y1="312" x2="169.3" y2="392.9" stroke="#000" stroke-width="1.5" />
<line x1="410.4" y1="312" x2="410.4" y2="392.9" stroke="#000" stroke-width="1.5" />
<line x1="208.6" y1="325.4" x2="208.6" y2="392.9" stroke="#000" stroke-width="1.5" />
<line x1="249.1" y1="325.4" x2="249.1" y2="392.9" stroke="#000" stroke-width="1.5" />
<line x1="292.4" y1="325.4" x2="292.4" y2="392.9" stroke="#000" stroke-width="1.5" />
<line x1="333.4" y1="325.4" x2="333.4" y2="392.9" stroke="#000" stroke-width="1.5" />
<line x1="368.7" y1="325.4" x2="368.7" y2="392.9" stroke="#000" stroke-width="1.5" />
<text x="142.60000000000002" y="322.0" font-size="8.2" text-anchor="middle" fill="#1a1a1a" >HDACi</text>
<text x="289.85" y="321.9" font-size="7.5" text-anchor="middle" fill="#1a1a1a" >Cell line</text>
<text x="188.95" y="335.45" font-size="7.7" text-anchor="middle" fill="#1a1a1a" >Ly1</text>
<text x="228.85" y="335.45" font-size="7.7" text-anchor="middle" fill="#1a1a1a" >Ly7</text>
<text x="270.75" y="335.45" font-size="7.7" text-anchor="middle" fill="#1a1a1a" >Ly10</text>
<text x="312.9" y="335.45" font-size="7.7" text-anchor="middle" fill="#1a1a1a" >Su-DHL6</text>
<text x="351.04999999999995" y="335.45" font-size="7.7" text-anchor="middle" fill="#1a1a1a" >RIVA</text>
<text x="389.54999999999995" y="335.45" font-size="7.7" text-anchor="middle" fill="#1a1a1a" >Su-DHL2</text>
<text x="142.60000000000002" y="349.2" font-size="7.7" text-anchor="middle" fill="#111" stroke="#111" stroke-width="0.12">panobinostat</text>
<text x="188.95" y="349.2" font-size="7.4" text-anchor="middle" fill="#111" font-weight="bold" stroke="#111" stroke-width="0.25">0.4</text>
<text x="228.85" y="349.2" font-size="7.4" text-anchor="middle" fill="#111" font-weight="bold" stroke="#111" stroke-width="0.25">0.01</text>
<text x="270.75" y="349.2" font-size="7.4" text-anchor="middle" fill="#111" font-weight="bold" stroke="#111" stroke-width="0.25">0.3</text>
<text x="312.9" y="349.2" font-size="7.4" text-anchor="middle" fill="#111" font-weight="bold" stroke="#111" stroke-width="0.25">0.7</text>
<text x="351.04999999999995" y="349.2" font-size="7.4" text-anchor="middle" fill="#111" font-weight="bold" stroke="#111" stroke-width="0.25">0.9</text>
<text x="389.54999999999995" y="349.2" font-size="7.4" text-anchor="middle" fill="#111" font-weight="bold" stroke="#111" stroke-width="0.25">0.4</text>
<text x="142.60000000000002" y="362.65" font-size="7.7" text-anchor="middle" fill="#111" stroke="#111" stroke-width="0.12">belinostat</text>
<text x="188.95" y="362.65" font-size="7.4" text-anchor="middle" fill="#111" font-weight="bold" stroke="#111" stroke-width="0.25">0.4</text>
<text x="228.85" y="362.65" font-size="7.4" text-anchor="middle" fill="#111" font-weight="bold" stroke="#111" stroke-width="0.25">0.5</text>
<text x="270.75" y="362.65" font-size="7.4" text-anchor="middle" fill="#111" font-weight="bold" stroke="#111" stroke-width="0.25">0.6</text>
<text x="312.9" y="362.65" font-size="7.4" text-anchor="middle" fill="#111" font-weight="bold" stroke="#111" stroke-width="0.25">0.8</text>
<text x="351.04999999999995" y="362.65" font-size="7.4" text-anchor="middle" fill="#111" font-weight="bold" stroke="#111" stroke-width="0.25">0.9</text>
<text x="389.54999999999995" y="362.65" font-size="7.4" text-anchor="middle" fill="#111" font-weight="bold" stroke="#111" stroke-width="0.25">0.9</text>
<text x="142.60000000000002" y="376.15" font-size="7.7" text-anchor="middle" fill="#111" stroke="#111" stroke-width="0.12">romidepsin</text>
<text x="188.95" y="376.15" font-size="7.4" text-anchor="middle" fill="#111" font-weight="bold" stroke="#111" stroke-width="0.25">0.5</text>
<text x="228.85" y="376.15" font-size="7.4" text-anchor="middle" fill="#111" font-weight="bold" stroke="#111" stroke-width="0.25">0.02</text>
<text x="270.75" y="376.15" font-size="7.4" text-anchor="middle" fill="#111" font-weight="bold" stroke="#111" stroke-width="0.25">0.5</text>
<text x="312.9" y="376.15" font-size="7.4" text-anchor="middle" fill="#111" font-weight="bold" stroke="#111" stroke-width="0.25">0.7</text>
<text x="351.04999999999995" y="376.15" font-size="7.4" text-anchor="middle" fill="#111" font-weight="bold" stroke="#111" stroke-width="0.25">1.0</text>
<text x="389.54999999999995" y="376.15" font-size="7.4" text-anchor="middle" fill="#111" font-weight="bold" stroke="#111" stroke-width="0.25">1.0</text>
<text x="142.60000000000002" y="389.59999999999997" font-size="7.7" text-anchor="middle" fill="#111" stroke="#111" stroke-width="0.12">vorinostat</text>
<text x="188.95" y="389.59999999999997" font-size="7.4" text-anchor="middle" fill="#111" font-weight="bold" stroke="#111" stroke-width="0.25">0.6</text>
<text x="228.85" y="389.59999999999997" font-size="7.4" text-anchor="middle" fill="#111" font-weight="bold" stroke="#111" stroke-width="0.25">0.2</text>
<text x="270.75" y="389.59999999999997" font-size="7.4" text-anchor="middle" fill="#111" font-weight="bold" stroke="#111" stroke-width="0.25">0.9</text>
<text x="312.9" y="389.59999999999997" font-size="7.4" text-anchor="middle" fill="#111" font-weight="bold" stroke="#111" stroke-width="0.25">1.0</text>
<text x="351.04999999999995" y="389.59999999999997" font-size="7.4" text-anchor="middle" fill="#111" font-weight="bold" stroke="#111" stroke-width="0.25">0.9</text>
<text x="389.54999999999995" y="389.59999999999997" font-size="7.4" text-anchor="middle" fill="#111" font-weight="bold" stroke="#111" stroke-width="0.25">0.6</text>
</svg>
</body></html>
